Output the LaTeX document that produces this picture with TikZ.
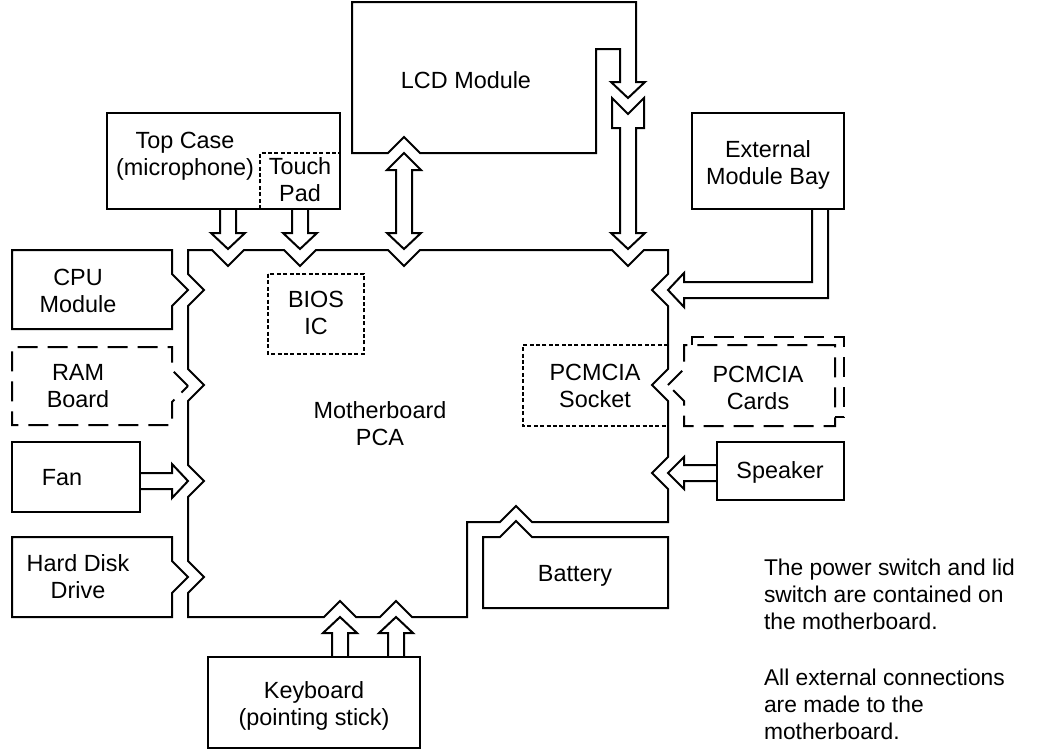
\documentclass[tikz,border=0pt]{standalone}
\usepackage{fontspec}
\setmainfont{Liberation Sans}
\usepackage{tikz}
\usetikzlibrary{positioning,calc}

\begin{document}
\begin{tikzpicture}[
    x=0.5pt, y=-0.5pt,
    line width=1pt, line join=miter,
    partLine/.style={draw=black, line width=1pt},
    dashLine/.style={draw=black, line width=1pt, dash pattern=on 10pt off 5pt},
    dotLine/.style={draw=black, line width=0.8pt, dash pattern=on 2pt off 1.2pt},
    lbl/.style={inner sep=0pt, align=center, font=\fontsize{11.7}{13.5}\selectfont},
    noteText/.style={inner sep=0pt, align=left, anchor=west, font=\fontsize{11.4}{13.5}\selectfont}
]
    \useasboundingbox (0,0) rectangle (1038,752);

    % Motherboard outline with its notches
    \draw[partLine] (188,250) -- (212,250) -- (228,266) -- (244,250) -- (284,250) -- (300,266) -- (316,250)
        -- (388,250) -- (404,266) -- (420,250) -- (612,250) -- (628,266) -- (644,250) -- (668,250)
        -- (668,274) -- (652,290) -- (668,306) -- (668,369) -- (652,385) -- (668,401)
        -- (668,457) -- (652,473) -- (668,489) -- (668,522) -- (532,522) -- (516,506) -- (500,522)
        -- (467,522) -- (467,617) -- (412,617) -- (396,601) -- (380,617) -- (356,617) -- (340,601)
        -- (324,617) -- (188,617) -- (188,593) -- (204,577) -- (188,561) -- (188,497) -- (204,481)
        -- (188,465) -- (188,401) -- (204,385) -- (188,369) -- (188,306) -- (204,290) -- (188,274) -- cycle;
    \node[lbl] (mobo) at (380,424) {Motherboard\\PCA};

    % BIOS and PCMCIA socket on the board
    \draw[dotLine] (268,274) rectangle (364,354);
    \node[lbl] (bios) at (316,313) {BIOS\\IC};
    \draw[dotLine] (668,345) -- (523,345) -- (523,426) -- (668,426);
    \node[lbl] (socket) at (595,386) {PCMCIA\\Socket};

    % Top case with touch pad
    \draw[partLine] (107,113) rectangle (340,209);
    \draw[dotLine] (260,209) -- (260,153) -- (340,153);
    \node[lbl] (topcase) at (185,156) {Top Case\\(microphone)};
    \node[lbl] (touchpad) at (300,180) {Touch\\Pad};
    \draw[partLine] (220,209) -- (220,233) -- (211,233) -- (228,249) -- (245,233) -- (236,233) -- (236,209);
    \draw[partLine] (292,209) -- (292,233) -- (283,233) -- (300,249) -- (317,233) -- (308,233) -- (308,209);

    % LCD module
    \draw[partLine] (352,2) -- (636,2) -- (636,82) -- (645,82) -- (628,98) -- (611,82) -- (620,82)
        -- (620,49) -- (596,49) -- (596,153) -- (420,153) -- (404,137) -- (388,153) -- (352,153) -- cycle;
    \node[lbl] (lcd) at (466,80) {LCD Module};
    \draw[partLine] (612,98) -- (628,114) -- (644,98) -- (644,128) -- (636,128) -- (636,233) -- (645,233)
        -- (628,249) -- (611,233) -- (620,233) -- (620,128) -- (612,128) -- cycle;
    \draw[partLine] (404,153) -- (421,170) -- (412,170) -- (412,233) -- (421,233) -- (404,249)
        -- (387,233) -- (396,233) -- (396,170) -- (387,170) -- cycle;

    % External module bay
    \draw[partLine] (692,113) rectangle (844,209);
    \node[lbl] (bay) at (768,165) {External\\Module Bay};
    \draw[partLine] (812,209) -- (812,282) -- (684,282) -- (684,273) -- (668,290) -- (684,307)
        -- (684,298) -- (828,298) -- (828,209);

    % Left side parts
    \draw[partLine] (12,250) -- (172,250) -- (172,274) -- (188,290) -- (172,306) -- (172,329) -- (12,329) -- cycle;
    \node[lbl] (cpu) at (78,291) {CPU\\Module};
    \draw[dashLine] (188,386) -- (172,370) -- (172,347) -- (12,347) -- (12,425) -- (172,425) -- (172,402) -- cycle;
    \node[lbl] (ram) at (78,386) {RAM\\Board};
    \draw[partLine] (12,442) rectangle (140,512);
    \node[lbl] (fan) at (62,478) {Fan};
    \draw[partLine] (140,473) -- (172,473) -- (172,464) -- (188,481) -- (172,498) -- (172,489) -- (140,489);
    \draw[partLine] (12,537) -- (172,537) -- (172,561) -- (188,577) -- (172,593) -- (172,617) -- (12,617) -- cycle;
    \node[lbl] (hdd) at (78,577) {Hard Disk\\Drive};

    % Right side parts
    \draw[dashLine] (692,345) -- (692,337) -- (844,337) -- (844,417) -- (835,417);
    \draw[dashLine] (668,385) -- (684,369) -- (684,345) -- (835,345) -- (835,426) -- (684,426) -- (684,401) -- cycle;
    \node[lbl] (cards) at (758,388) {PCMCIA\\Cards};
    \draw[partLine] (717,442) rectangle (844,500);
    \node[lbl] (speaker) at (780,472) {Speaker};
    \draw[partLine] (717,465) -- (684,465) -- (684,457) -- (668,473) -- (684,489) -- (684,481) -- (717,481);
    \draw[partLine] (483,608) -- (483,537) -- (500,537) -- (516,521) -- (532,537) -- (668,537) -- (668,608) -- cycle;
    \node[lbl] (battery) at (575,576) {Battery};

    % Keyboard
    \draw[partLine] (208,657) rectangle (420,748);
    \node[lbl] (keyboard) at (314,706) {Keyboard\\(pointing stick)};
    \draw[partLine] (332,657) -- (332,633) -- (323,633) -- (340,617) -- (357,633) -- (348,633) -- (348,657);
    \draw[partLine] (388,657) -- (388,633) -- (379,633) -- (396,617) -- (413,633) -- (404,633) -- (404,657);

    % Notes
    \node[noteText] (note1) at (763,594) {The power switch and lid\\switch are contained on\\the motherboard.};
    \node[noteText] (note2) at (763,704) {All external connections\\are made to the\\motherboard.};
\end{tikzpicture}
\end{document}
